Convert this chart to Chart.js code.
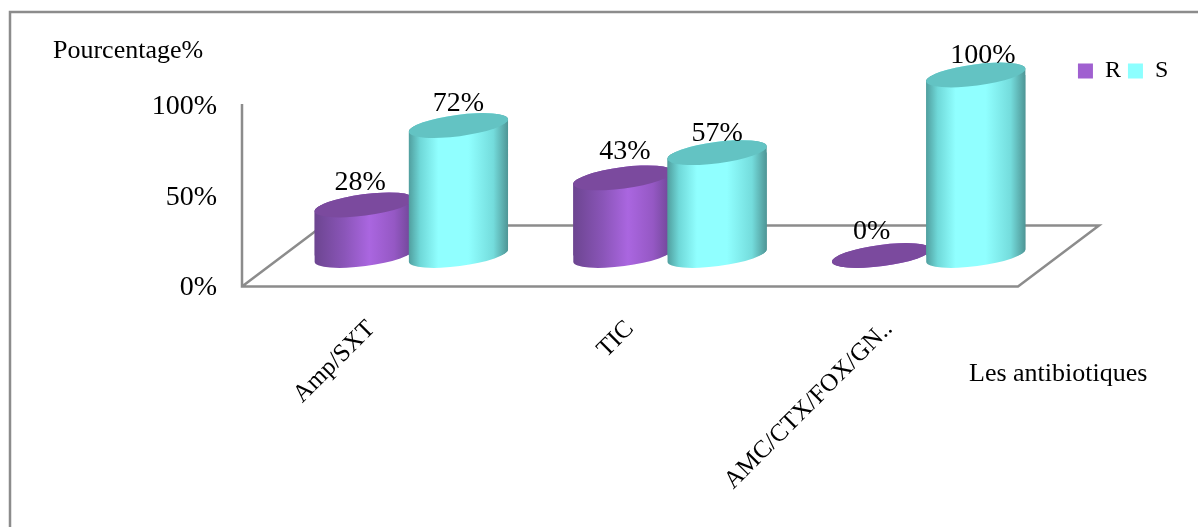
<!DOCTYPE html>
<html lang="fr">
<head>
  <meta charset="UTF-8" />
  <title>Pourcentage R / S par antibiotique</title>
  <style>
  body { margin: 0; padding: 0; background: #ffffff; }
  canvas { display: block; }
  </style>
  <script src="https://cdn.jsdelivr.net/npm/chart.js"></script>
</head>
<body>
  <canvas id="chart" width="1198" height="527"></canvas>

  <script>
  // values
  const categories = ['Amp/SXT', 'TIC', 'AMC/CTX/FOX/GN..'];
  const valuesR = [28, 43, 0];
  const valuesS = [72, 57, 100];
  const yTicks = [0, 50, 100];
  const yTitle = 'Pourcentage%';
  const xTitle = 'Les antibiotiques';

  const SERIF = '"Liberation Serif", "Times New Roman", serif';
  const GREY = '#8c8c8c';

  // cylinder look
  const looks = [
    { flat: '#a060d0', cap: '#7b4a9e',
      stops: [[0, '#6c4590'], [0.3, '#8a55b8'], [0.55, '#aa66e0'], [0.8, '#9558c4'], [1, '#6a4490']] },
    { flat: '#8cffff', cap: '#63c3c3',
      stops: [[0, '#4f9c9c'], [0.12, '#6fd8d8'], [0.3, '#90ffff'], [0.6, '#90ffff'], [0.85, '#74dcdc'], [1, '#4e9494']] }
  ];

  // the bars stand half way into the floor
  const FLOOR_DX = 81, FLOOR_DY = -61;
  const BAR_DX = 40, BAR_DY = -31;
  const BAR_W = 100, BAR_STEP = 94;
  const RX = 50, RY = 10.7, ROT = -0.13;

  // hand placement of the value labels [dataset][category], as in the original
  const labelNudge = [[[-4, 0], [2, -4], [-10, -2]], [[0, 0], [0, 3], [7, 3]]];

  function sideFill(c) {
    const look = looks[c.datasetIndex];
    if (c.dataIndex === undefined) return look.flat;
    const cx = c.chart.scales.x.getPixelForValue(c.dataIndex) + (c.datasetIndex ? 1 : -1) * BAR_STEP / 2;
    if (!isFinite(cx)) return look.flat; // scales not laid out yet
    const g = c.chart.ctx.createLinearGradient(cx - BAR_W / 2, 0, cx + BAR_W / 2, 0);
    look.stops.forEach(s => g.addColorStop(s[0], s[1]));
    return g;
  }

  function outline(ctx, bar) {
    const dx = RX * Math.cos(ROT), dy = RX * Math.sin(ROT);
    ctx.moveTo(bar.x - dx, bar.y - dy);
    ctx.lineTo(bar.x - dx, bar.base - dy);
    ctx.ellipse(bar.x, bar.base, RX, RY, ROT, Math.PI, 0, true);
    ctx.lineTo(bar.x + dx, bar.y + dy);
    ctx.ellipse(bar.x, bar.y, RX, RY, ROT, 0, Math.PI, true);
    ctx.closePath();
  }

  // one series of cylinders: body by the library's bar drawing, clipped to the outline
  function drawCylinders(chart, index) {
    const ctx = chart.ctx;
    const meta = chart.getDatasetMeta(index);
    ctx.save();
    ctx.translate(BAR_DX, BAR_DY);
    ctx.save();
    meta.data.forEach(bar => {
      ctx.beginPath();
      outline(ctx, bar);
      ctx.fillStyle = bar.options.backgroundColor;
      ctx.fill();
    });
    ctx.beginPath();
    meta.data.forEach(bar => outline(ctx, bar));
    ctx.clip();
    meta.controller.draw();
    ctx.restore();
    ctx.fillStyle = looks[index].cap;
    meta.data.forEach(bar => {
      ctx.beginPath();
      ctx.ellipse(bar.x, bar.y, RX, RY, ROT, 0, Math.PI * 2);
      ctx.fill();
    });
    ctx.restore();
  }

  const cylinders = {
    id: 'cylinders',
    afterLayout(chart) {
      // legend sits in the upper right corner, outside the plot
      const l = chart.legend;
      l.left = 1060; l.right = 1175.3; l.top = 52;
    },
    beforeDatasetsDraw(chart) {
      const { ctx, chartArea: a } = chart;
      ctx.save();
      ctx.strokeStyle = GREY;
      ctx.lineWidth = 2.5;
      // frame of the picture
      ctx.beginPath();
      ctx.moveTo(10, 527); ctx.lineTo(10, 12); ctx.lineTo(1198, 12);
      ctx.stroke();
      // wall and floor
      ctx.beginPath();
      ctx.moveTo(a.left, 104); ctx.lineTo(a.left, a.bottom); ctx.lineTo(a.right, a.bottom);
      ctx.lineTo(a.right + FLOOR_DX, a.bottom + FLOOR_DY);
      ctx.lineTo(a.left + FLOOR_DX, a.bottom + FLOOR_DY);
      ctx.lineTo(a.left, a.bottom);
      ctx.stroke();
      // axis titles
      ctx.fillStyle = '#000';
      ctx.font = '26px ' + SERIF;
      ctx.textBaseline = 'middle';
      ctx.fillText(yTitle, 53, 51);
      ctx.fillText(xTitle, 969, 374);
      ctx.restore();

      // R first, S on top of it: the reverse of what the library would do
      chart.data.datasets.forEach((ds, i) => drawCylinders(chart, i));

      ctx.save();
      ctx.fillStyle = '#000';
      ctx.font = '28px ' + SERIF;
      ctx.textAlign = 'center';
      ctx.textBaseline = 'middle';
      chart.data.datasets.forEach((ds, i) => {
        chart.getDatasetMeta(i).data.forEach((bar, j) => {
          const n = labelNudge[i][j];
          ctx.fillText(ds.data[j] + '%', bar.x + BAR_DX + n[0], bar.y + BAR_DY - 22 + n[1]);
        });
      });
      ctx.restore();
      return false;
    }
  };

  new Chart(document.getElementById('chart'), {
    type: 'bar',
    data: {
      labels: categories,
      datasets: [
        { label: 'R', data: valuesR, backgroundColor: sideFill },
        { label: 'S', data: valuesS, backgroundColor: sideFill }
      ]
    },
    options: {
      responsive: false,
      animation: false,
      events: [],
      layout: { autoPadding: false, padding: { top: 65, right: 180, left: 0, bottom: 0 } },
      datasets: {
        bar: {
          borderWidth: 0,
          categoryPercentage: 2 * BAR_STEP / 258,
          barPercentage: BAR_W / BAR_STEP
        }
      },
      plugins: {
        tooltip: { enabled: false },
        legend: {
          position: 'top',
          align: 'end',
          labels: {
            boxWidth: 15,
            boxHeight: 15,
            padding: 7,
            color: '#000',
            font: { family: SERIF, size: 24 },
            generateLabels(chart) {
              return Chart.defaults.plugins.legend.labels.generateLabels(chart).map((item, i) => {
                item.fillStyle = looks[i].flat;
                item.lineWidth = 0;
                return item;
              });
            }
          }
        }
      },
      scales: {
        x: {
          afterFit(s) { s.height = 240.5; },
          grid: { display: false },
          border: { display: false },
          ticks: {
            autoSkip: false,
            minRotation: 45,
            maxRotation: 45,
            padding: 20,
            color: '#000',
            font: { family: SERIF, size: 25 }
          }
        },
        y: {
          min: 0,
          max: 100,
          afterFit(s) { s.width = 242; },
          afterBuildTicks(s) { s.ticks = yTicks.map(v => ({ value: v })); },
          grid: { display: false },
          border: { display: false },
          ticks: {
            padding: 17,
            labelOffset: 1,
            color: '#000',
            font: { family: SERIF, size: 28 },
            callback: v => v + '%'
          }
        }
      }
    },
    plugins: [cylinders]
  });
  </script>
</body>
</html>
